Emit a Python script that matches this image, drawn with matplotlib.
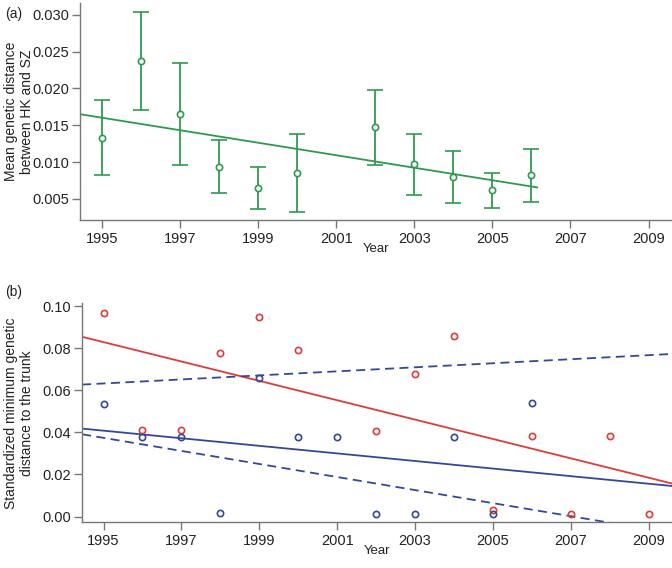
import numpy as np
import matplotlib.pyplot as plt

plt.rcParams['font.family'] = ['Liberation Sans', 'DejaVu Sans']

# panel (a): mean genetic distance between HK and SZ
years_a = [1995, 1996, 1997, 1998, 1999, 2000, 2002, 2003, 2004, 2005, 2006]
mean_a = [0.0133, 0.0237, 0.0165, 0.0094, 0.0065, 0.0085, 0.0147, 0.0097, 0.0080, 0.0062, 0.0082]
upper_a = [0.0184, 0.0303, 0.0235, 0.0130, 0.0093, 0.0138, 0.0198, 0.0138, 0.0115, 0.0085, 0.0118]
lower_a = [0.0082, 0.0171, 0.0096, 0.0058, 0.0037, 0.0032, 0.0096, 0.0055, 0.0045, 0.0038, 0.0046]
fit_a = (-0.000848, 0.0165)   # slope, value at 1994.44

# panel (b): standardized minimum genetic distance to the trunk
years_red = [1995, 1996, 1997, 1998, 1999, 2000, 2002, 2003, 2004, 2005, 2006, 2007, 2008, 2009]
red_vals = [0.0967, 0.0410, 0.0410, 0.0778, 0.0948, 0.0793, 0.0408, 0.0679, 0.0856, 0.0033, 0.0384, 0.0013, 0.0384, 0.0013]
years_blue = [1995, 1996, 1997, 1998, 1999, 2000, 2001, 2002, 2003, 2004, 2005, 2006]
blue_vals = [0.0536, 0.0380, 0.0380, 0.0017, 0.0660, 0.0380, 0.0380, 0.0013, 0.0013, 0.0380, 0.0013, 0.0541]
fit_red = (-0.0046, 0.0854)      # slope, value at 1994.45
fit_blue = (-0.0018, 0.0418)
band_hi = (0.00096, 0.0627)
band_lo = (-0.0031, 0.0391)

green = '#2f9a4f'
red = '#e03a3a'
blue = '#34489a'
grey = '#777777'
txt = '#222222'

fig = plt.figure(figsize=(6.72, 5.68), dpi=100)
ax1 = fig.add_axes([0.119, 0.612, 0.881, 0.383])
ax2 = fig.add_axes([0.1216, 0.0805, 0.8784, 0.3855])

for ax in (ax1, ax2):
    for s in ['top', 'right']:
        ax.spines[s].set_visible(False)
    for s in ['left', 'bottom']:
        ax.spines[s].set_color(grey)
        ax.spines[s].set_linewidth(1.0)
    ax.tick_params(labelcolor=txt, color=grey, labelsize=10.5, length=5.5, width=1.0, pad=2)
    ax.tick_params(axis='x', pad=3)
    ax.set_xticks(range(1995, 2010, 2))
    ax.set_xlim(1994.44, 2009.6)
    ax.set_xlabel('Year', fontsize=9.5, color=txt, labelpad=-2.5)

# (a)
err = [np.array(mean_a) - np.array(lower_a), np.array(upper_a) - np.array(mean_a)]
ax1.errorbar(years_a, mean_a, yerr=err, fmt='o', color=green, ecolor=green,
             mfc='white', mec=green, ms=4.5, mew=1.2, elinewidth=1.3, capsize=5.5, capthick=1.3)
xa = np.array([1994.44, 2006.15])
ax1.plot(xa, fit_a[1] + fit_a[0] * (xa - 1994.44), color=green, lw=1.3)
ax1.set_ylim(0.0021, 0.0316)
ax1.set_yticks([0.005, 0.010, 0.015, 0.020, 0.025, 0.030])
ax1.set_yticklabels(['0.005', '0.010', '0.015', '0.020', '0.025', '0.030'])
ax1.set_ylabel('Mean genetic distance\nbetween HK and SZ', fontsize=10, color=txt)
ax1.yaxis.set_label_coords(-0.078, 0.5)
fig.text(0.008, 0.988, '(a)', fontsize=10, color=txt, va='top')

# (b)
xb = np.array([1994.45, 2009.6])
ax2.plot(xb, fit_red[1] + fit_red[0] * (xb - 1994.45), color=red, lw=1.3)
ax2.plot(xb, fit_blue[1] + fit_blue[0] * (xb - 1994.45), color=blue, lw=1.3)
ax2.plot(xb, band_hi[1] + band_hi[0] * (xb - 1994.45), color=blue, lw=1.3, ls=(0, (5, 3)))
ax2.plot(xb, band_lo[1] + band_lo[0] * (xb - 1994.45), color=blue, lw=1.3, ls=(0, (5, 3)))
ax2.plot(years_red, red_vals, 'o', mfc='none', mec=red, ms=4.5, mew=1.2)
ax2.plot(years_blue, blue_vals, 'o', mfc='none', mec=blue, ms=4.5, mew=1.2)
ax2.set_ylim(-0.0027, 0.1013)
ax2.set_yticks([0.0, 0.02, 0.04, 0.06, 0.08, 0.10])
ax2.set_yticklabels(['0.00', '0.02', '0.04', '0.06', '0.08', '0.10'])
ax2.set_ylabel('Standardized minimum genetic\ndistance to the trunk', fontsize=10, color=txt)
ax2.yaxis.set_label_coords(-0.081, 0.5)
fig.text(0.008, 0.498, '(b)', fontsize=10, color=txt, va='top')

fig.savefig('out.png', dpi=100)
